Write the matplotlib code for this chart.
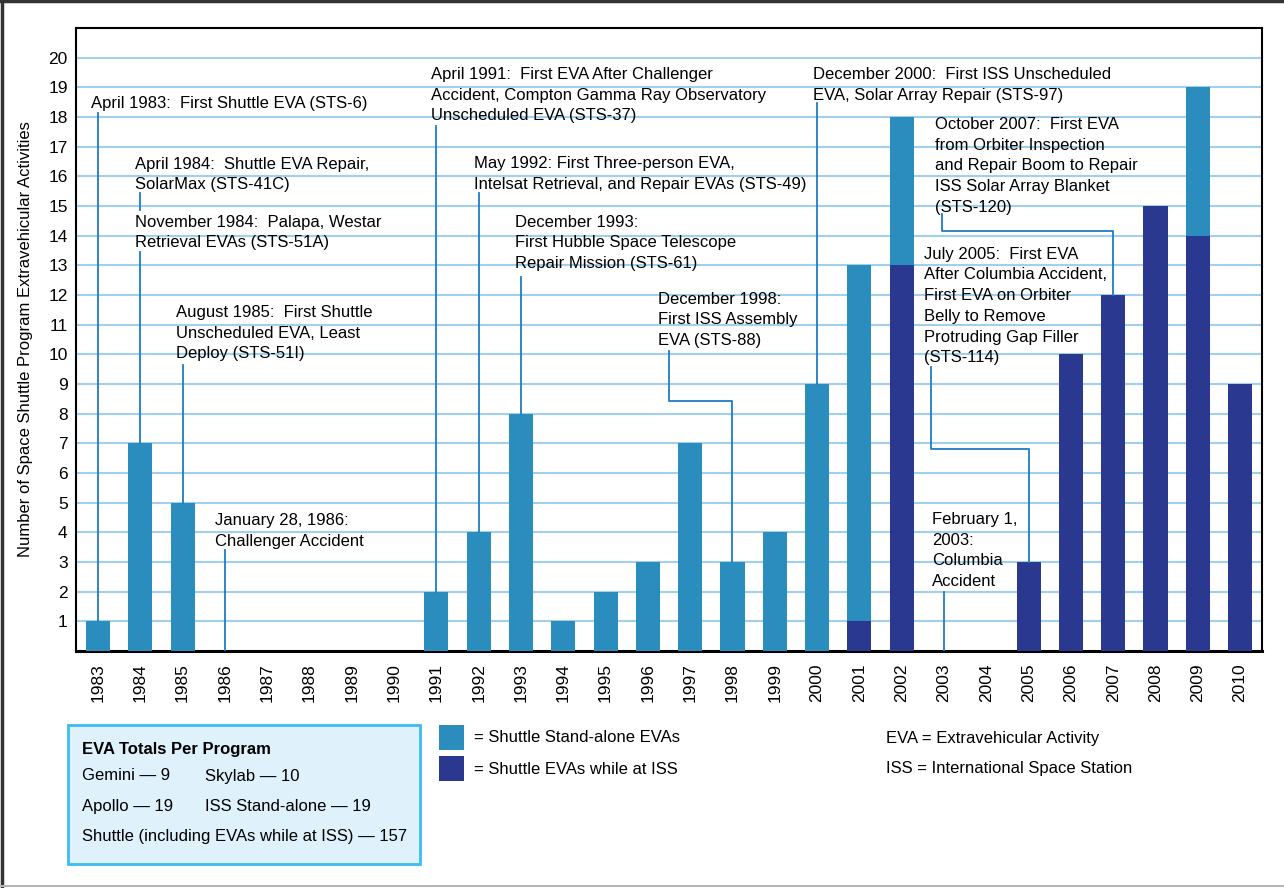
import numpy as np
import matplotlib
matplotlib.use('Agg')
import matplotlib.pyplot as plt
from matplotlib.patches import Rectangle
from matplotlib.lines import Line2D

plt.rcParams['font.family'] = ['Liberation Sans', 'DejaVu Sans']

# data
years = [str(y) for y in range(1983, 2011)]
standalone = [1, 7, 5, 0, 0, 0, 0, 0, 2, 4, 8, 1, 2, 3, 7, 3, 4, 9, 12, 5, 0, 0, 0, 0, 0, 0, 5, 0]
at_iss = [0, 0, 0, 0, 0, 0, 0, 0, 0, 0, 0, 0, 0, 0, 0, 0, 0, 0, 1, 13, 0, 0, 3, 10, 12, 15, 14, 9]
yticks = list(range(1, 21))

# annotations: year, text, (text x, text top), leader path start (x, y), elbow y or None
notes = [
    ('1983', 'April 1983:  First Shuttle EVA (STS-6)', (-0.17, 18.72), (0, 18.14), None),
    ('1984', 'November 1984:  Palapa, Westar\nRetrieval EVAs (STS-51A)', (0.875, 14.71), (1, 13.46), None),
    ('1985', 'August 1985:  First Shuttle\nUnscheduled EVA, Least\nDeploy (STS-51I)', (1.84, 11.67), (2, 9.65), None),
    ('1986', 'January 28, 1986:\nChallenger Accident', (2.77, 4.66), (3, 3.41), None),
    ('1991', 'April 1991:  First EVA After Challenger\nAccident, Compton Gamma Ray Observatory\nUnscheduled EVA (STS-37)', (7.87, 19.69), (8, 17.7), None),
    ('1992', 'May 1992: First Three-person EVA,\nIntelsat Retrieval, and Repair EVAs (STS-49)', (8.89, 16.69), (9, 15.45), None),
    ('1993', 'December 1993:\nFirst Hubble Space Telescope\nRepair Mission (STS-61)', (9.86, 14.71), (10, 12.62), None),
    ('1998', 'December 1998:\nFirst ISS Assembly\nEVA (STS-88)', (13.24, 12.11), (13.5, 10.12), 8.44),
    ('2000', 'December 2000:  First ISS Unscheduled\nEVA, Solar Array Repair (STS-97)', (16.9, 19.69), (17, 18.48), None),
    ('2007', 'October 2007:  First EVA\nfrom Orbiter Inspection\nand Repair Boom to Repair\nISS Solar Array Blanket\n(STS-120)', (19.79, 18.0), (19.95, 14.74), 14.17),
    ('2005', 'July 2005:  First EVA\nAfter Columbia Accident,\nFirst EVA on Orbiter\nBelly to Remove\nProtruding Gap Filler\n(STS-114)', (19.53, 13.63), (19.69, 9.58), 6.82),
    ('2003', 'February 1,\n2003:\nColumbia\nAccident', (19.72, 4.69), (20, 2.0), None),
]

light = '#2a8dbd'
dark = '#2b388f'
lead = '#1f7cc4'
fs = 12

fig = plt.figure(figsize=(12.84, 8.88), dpi=100)
ax = fig.add_axes([0.0592, 0.2669, 0.9237, 0.7016])

x = np.arange(len(years))
tot = np.array(standalone) + np.array(at_iss)
ax.bar(x, at_iss, width=0.57, color=dark, zorder=3)
ax.bar(x, standalone, width=0.57, bottom=at_iss, color=light, zorder=3)

ax.set_xlim(-0.52, len(years) - 0.48)
ax.set_ylim(0, 21)
ax.set_yticks(yticks)
ax.set_yticklabels([str(t) for t in yticks], fontsize=12.5)
ax.set_xticks(x)
ax.set_xticklabels(years, rotation=90, fontsize=12.5)
ax.tick_params(axis='y', length=0, pad=6)
ax.tick_params(axis='x', length=0, pad=9)
ax.yaxis.grid(True, color='#a0d0ee', lw=1.5, zorder=0)
ax.set_axisbelow(True)
for s in ax.spines.values():
    s.set_linewidth(1.5)
ax.spines['bottom'].set_linewidth(2.2)
ax.set_ylabel('Number of Space Shuttle Program Extravehicular Activities', fontsize=12)
ax.yaxis.set_label_coords(-0.036, 0.5)

# SolarMax note only has a short tick under it
ax.text(0.875, 16.66, 'April 1984:  Shuttle EVA Repair,\nSolarMax (STS-41C)', fontsize=fs,
        va='top', ha='left', linespacing=1.48, zorder=5)
ax.plot([1, 1], [15.45, 14.87], color=lead, lw=1.3, zorder=4)

for yr, txt, (tx, ty), (lx, ly), elbow in notes:
    i = years.index(yr)
    ax.text(tx, ty, txt, fontsize=fs, va='top', ha='left', linespacing=1.48, zorder=5)
    if elbow is None:
        ax.plot([lx, lx], [ly, tot[i]], color=lead, lw=1.3, zorder=4)
    else:
        ax.plot([lx, lx, i, i], [ly, elbow, elbow, tot[i]], color=lead, lw=1.3, zorder=4)

# program totals box
fig.add_artist(Rectangle((68 / 1284, 1 - 864 / 888), 352 / 1284, 139 / 888,
                         transform=fig.transFigure, facecolor='#dff1fb',
                         edgecolor='#3cbcf0', lw=2))
fig.text(82 / 1284, 1 - 749 / 888, 'EVA Totals Per Program', fontsize=fs, fontweight='bold', va='center')
fig.text(82 / 1284, 1 - 776 / 888, 'Gemini \u2014 9', fontsize=fs, va='center')
fig.text(205 / 1284, 1 - 776 / 888, 'Skylab \u2014 10', fontsize=fs, va='center')
fig.text(82 / 1284, 1 - 806 / 888, 'Apollo \u2014 19', fontsize=fs, va='center')
fig.text(205 / 1284, 1 - 806 / 888, 'ISS Stand-alone \u2014 19', fontsize=fs, va='center')
fig.text(82 / 1284, 1 - 836 / 888, 'Shuttle (including EVAs while at ISS) \u2014 157', fontsize=fs, va='center')

# colour key
fig.add_artist(Rectangle((439 / 1284, 1 - 750 / 888), 25 / 1284, 25 / 888,
                         transform=fig.transFigure, facecolor=light, edgecolor='none'))
fig.add_artist(Rectangle((439 / 1284, 1 - 781 / 888), 25 / 1284, 25 / 888,
                         transform=fig.transFigure, facecolor=dark, edgecolor='none'))
fig.text(474 / 1284, 1 - 738 / 888, '= Shuttle Stand-alone EVAs', fontsize=fs, va='center')
fig.text(474 / 1284, 1 - 769 / 888, '= Shuttle EVAs while at ISS', fontsize=fs, va='center')
fig.text(886 / 1284, 1 - 738 / 888, 'EVA = Extravehicular Activity', fontsize=fs, va='center')
fig.text(886 / 1284, 1 - 768 / 888, 'ISS = International Space Station', fontsize=fs, va='center')

# outer frame
fig.add_artist(Line2D([0, 1], [0.9985, 0.9985], transform=fig.transFigure, color='#333333', lw=2.5))
fig.add_artist(Line2D([0.0012, 0.0012], [0, 1], transform=fig.transFigure, color='#333333', lw=2.5))
fig.add_artist(Line2D([0, 1], [1 - 886 / 888, 1 - 886 / 888], transform=fig.transFigure, color='#b5b5b5', lw=1.5))

fig.savefig('out.png', dpi=100)
